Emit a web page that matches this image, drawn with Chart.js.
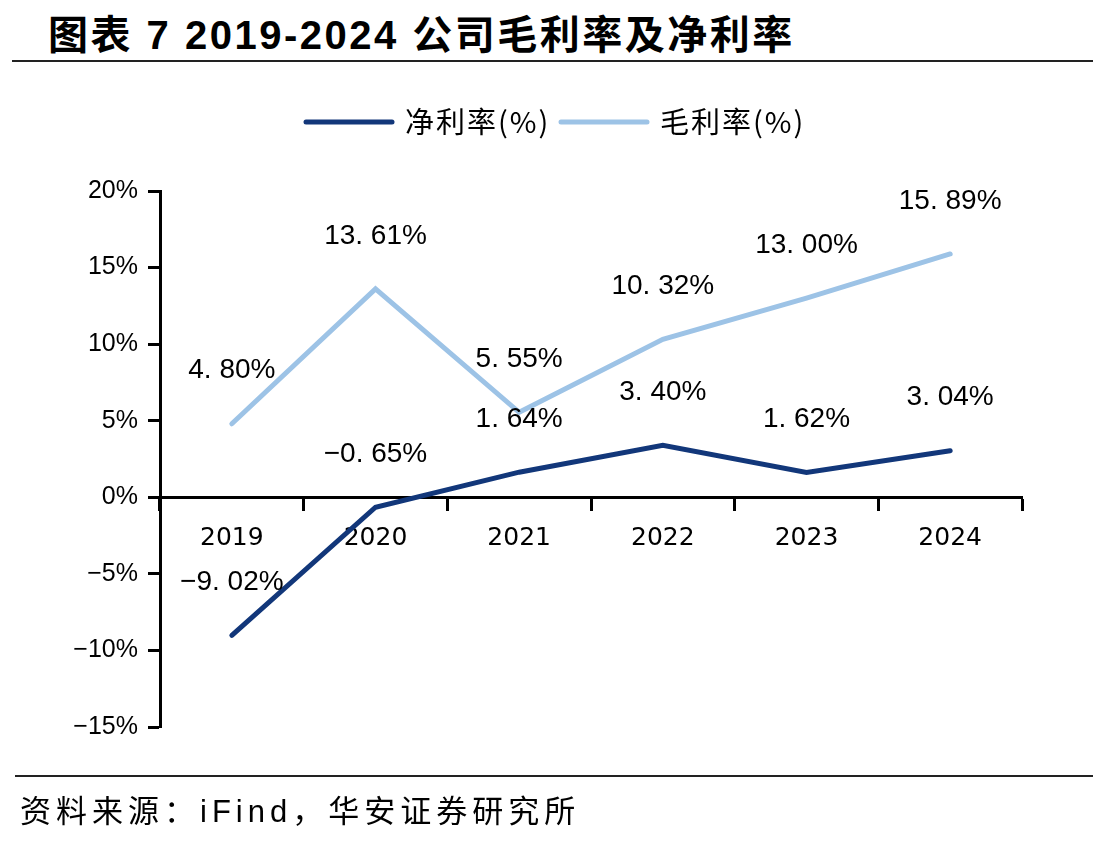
<!DOCTYPE html>
<html>
<head>
<meta charset="utf-8">
<script src="https://cdn.jsdelivr.net/npm/chart.js@4"></script>
<style>
  html, body { margin: 0; padding: 0; background: #fff; }
  #wrap { position: relative; width: 1093px; height: 844px; overflow: hidden; }
  #title {
    position: absolute; left: 48px; top: 3px;
    font: bold 40px "Liberation Sans", "Noto Sans CJK SC", sans-serif;
    letter-spacing: 2.5px; color: #000; white-space: nowrap;
  }
  .rule { position: absolute; height: 2px; background: #222; }
  #source {
    position: absolute; left: 20px; top: 786px;
    font: 31px "Liberation Sans", "Noto Sans CJK SC", sans-serif;
    letter-spacing: 5px; color: #000; white-space: nowrap;
  }
  canvas { position: absolute; left: 0; top: 0; }
</style>
</head>
<body>
<div id="wrap">
  <div id="title">图表 7 2019-2024 公司毛利率及净利率</div>
  <div class="rule" style="left:12px; right:0; top:60px;"></div>
  <canvas id="js-chart-margin" width="1093" height="844"></canvas>
  <div class="rule" style="left:15px; right:0; top:775px;"></div>
  <div id="source">资料来源：iFind，华安证券研究所</div>
</div>
<script>
// Chart data
const years = ['2019', '2020', '2021', '2022', '2023', '2024'];
const netMargin = [-9.02, -0.65, 1.64, 3.40, 1.62, 3.04];
const grossMargin = [4.80, 13.61, 5.55, 10.32, 13.00, 15.89];
const seriesNames = ['净利率(%)', '毛利率(%)'];
const yTicks = [-15, -10, -5, 0, 5, 10, 15, 20];

const NAVY = '#12377a';
const LIGHT = '#9dc3e6';

function fmtPct(v) {
  // "13. 61%" style used in the report
  let s = Math.abs(v).toFixed(2).replace('.', '. ') + '%';
  return (v < 0 ? '\u2212' : '') + s;
}

// value labels above each point
const valueLabels = {
  id: 'valueLabels',
  afterDatasetsDraw(chart) {
    const ctx = chart.ctx;
    ctx.save();
    ctx.font = '28px "Liberation Sans", Arial, sans-serif';
    ctx.fillStyle = '#000';
    ctx.textAlign = 'center';
    ctx.textBaseline = 'middle';
    chart.data.datasets.forEach((ds, i) => {
      chart.getDatasetMeta(i).data.forEach((pt, j) => {
        ctx.fillText(fmtPct(ds.data[j]), pt.x, pt.y - 53);
      });
    });
    ctx.restore();
  }
};

// legend drawn by hand to sit like the original
const lineLegend = {
  id: 'lineLegend',
  afterDraw(chart) {
    const ctx = chart.ctx;
    const items = [
      {x: 306, color: NAVY, text: seriesNames[0]},
      {x: 561, color: LIGHT, text: seriesNames[1]}
    ];
    ctx.save();
    ctx.font = '29px "Noto Sans CJK SC", sans-serif';
    ctx.letterSpacing = '2px';
    ctx.textBaseline = 'middle';
    items.forEach(it => {
      ctx.strokeStyle = it.color;
      ctx.lineWidth = 5;
      ctx.lineCap = 'round';
      ctx.beginPath();
      ctx.moveTo(it.x, 122);
      ctx.lineTo(it.x + 86, 122);
      ctx.stroke();
      ctx.fillStyle = '#000';
      ctx.fillText(it.text, it.x + 99, 122);
    });
    ctx.restore();
  }
};

const chartData = {
  labels: years,
  datasets: [
    {
      label: seriesNames[0],
      data: netMargin,
      borderColor: NAVY,
      backgroundColor: NAVY,
      borderWidth: 5,
      borderCapStyle: 'round',
      pointRadius: 0,
      tension: 0
    },
    {
      label: seriesNames[1],
      data: grossMargin,
      borderColor: LIGHT,
      backgroundColor: LIGHT,
      borderWidth: 5,
      borderCapStyle: 'round',
      pointRadius: 0,
      tension: 0
    }
  ]
};

const chartOptions = {
  responsive: false,
  animation: false,
  devicePixelRatio: 1,
  layout: {
    padding: {left: 0, top: 191, right: 71, bottom: 117}
  },
  scales: {
    x: {
      type: 'category',
      offset: true,
      position: {y: 0},
      grid: {
        offset: true,
        drawOnChartArea: false,
        drawTicks: true,
        tickLength: 12,
        tickWidth: 3,
        tickColor: '#000'
      },
      border: {color: '#000', width: 3},
      ticks: {
        color: '#000',
        font: {family: '"DejaVu Sans", sans-serif', size: 25},
        padding: 14,
        maxRotation: 0
      },
      afterFit(scale) { scale.height = 0; }
    },
    y: {
      min: -15,
      max: 20,
      afterBuildTicks(scale) { scale.ticks = yTicks.map(v => ({value: v})); },
      grid: {
        drawOnChartArea: false,
        tickLength: 12,
        tickWidth: 3,
        tickColor: '#000'
      },
      border: {color: '#000', width: 3},
      ticks: {
        color: '#000',
        font: {family: '"Liberation Sans", Arial, sans-serif', size: 25},
        padding: 10,
        callback: v => (v < 0 ? '\u2212' + Math.abs(v) : v) + '%'
      },
      afterFit(scale) { scale.width = 160; }
    }
  },
  plugins: {
    legend: {display: false},
    tooltip: {enabled: false}
  }
};

new Chart(document.getElementById('js-chart-margin'), {
  type: 'line',
  data: chartData,
  options: chartOptions,
  plugins: [valueLabels, lineLegend]
});
</script>
</body>
</html>
